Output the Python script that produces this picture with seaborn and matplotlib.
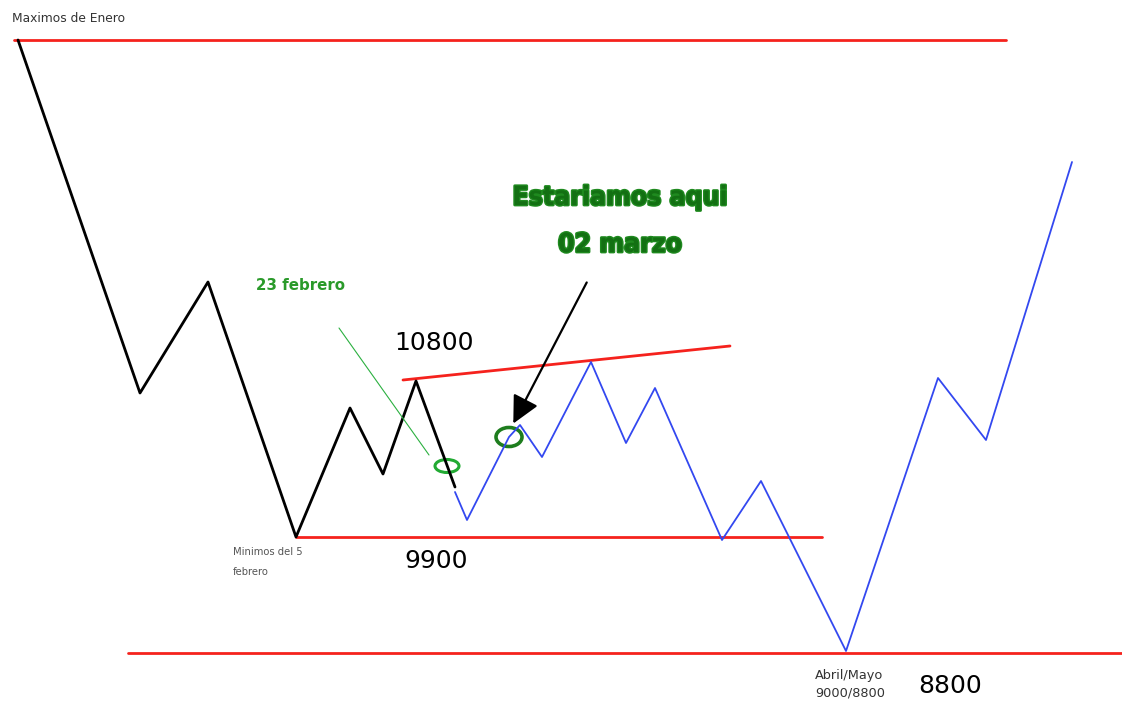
import matplotlib
matplotlib.use("Agg")
import matplotlib.pyplot as plt
import matplotlib.patheffects as pe
from matplotlib.patches import Ellipse
import numpy as np
import pandas as pd
import seaborn as sns

# sketch coordinates (x to the right, y downward)
black_x = [18, 140, 208, 296, 350, 383, 416, 455]
black_y = [40, 393, 282, 537, 408, 474, 381, 487]

blue_x = [455, 467, 509, 520, 542, 591, 626, 655, 722, 761, 846, 938, 986, 1072]
blue_y = [492, 520, 437, 425, 457, 362, 443, 388, 540, 481, 651, 378, 440, 162]

# red levels: (x start, y start, x end, y end)
levels = [
    (14, 40, 1006, 40),      # Maximos de Enero
    (403, 380, 730, 346),    # 10800
    (296, 537, 822, 537),    # 9900
    (128, 653, 1122, 653),   # 8800
]

green_x = [339, 429]
green_y = [328, 455]

sns.set_theme(style="white")
plt.rcParams['font.family'] = ['DejaVu Sans']

fig = plt.figure(figsize=(11.22, 7.02), dpi=100)
ax = fig.add_axes([0, 0, 1, 1])

for x0, y0, x1, y1 in levels:
    df = pd.DataFrame({"x": [x0, x1], "y": [y0, y1]})
    sns.lineplot(data=df, x="x", y="y", color="#f5221d", linewidth=2.0, sort=False, ax=ax)

sns.lineplot(x=black_x, y=black_y, color="black", linewidth=2.0, sort=False, ax=ax)
sns.lineplot(x=blue_x, y=blue_y, color="#3348f0", linewidth=1.3, sort=False, ax=ax)
sns.lineplot(x=green_x, y=green_y, color="#2bb040", linewidth=0.8, sort=False, ax=ax)

ax.add_patch(Ellipse((447, 466), 24, 13, fill=False, edgecolor="#22aa33", linewidth=2.2))
ax.add_patch(Ellipse((509, 437), 26, 19, fill=False, edgecolor="#1e7d1e", linewidth=2.6))

ax.annotate("", xy=(512, 426), xytext=(588, 280),
            arrowprops=dict(arrowstyle="-|>,head_length=1.4,head_width=0.7",
                            color="black", linewidth=1.6))

gray = "#333333"
ax.text(12, 18, "Maximos de Enero", fontsize=8.8, color=gray, va="center", ha="left")
ax.text(233, 552, "Minimos del 5", fontsize=7.2, color="#555555", va="center", ha="left")
ax.text(233, 572, "febrero", fontsize=7.2, color="#555555", va="center", ha="left")
ax.text(815, 675, "Abril/Mayo", fontsize=9.3, color=gray, va="center", ha="left")
ax.text(815, 693, "9000/8800", fontsize=9.3, color=gray, va="center", ha="left")

ax.text(256, 285, "23 febrero", fontsize=10.8, color="#2a9a2a", fontweight="bold",
        va="center", ha="left")

ax.text(394, 343, "10800", fontsize=18, color="black", va="center", ha="left")
ax.text(404, 561, "9900", fontsize=18, color="black", va="center", ha="left")
ax.text(918, 686, "8800", fontsize=18, color="black", va="center", ha="left")

outline = [pe.withStroke(linewidth=2, foreground="#1f8a1f")]
ax.text(620, 198, "Estariamos aqui", fontsize=19, color="#137013", fontweight="heavy",
        fontstretch="condensed", va="center", ha="center", path_effects=outline)
ax.text(620, 245, "02 marzo", fontsize=19, color="#137013", fontweight="heavy",
        fontstretch="condensed", va="center", ha="center", path_effects=outline)

ax.set_xlim(0, 1122)
ax.set_ylim(702, 0)
ax.set_axis_off()

fig.savefig("out.png", dpi=100, facecolor="white")
